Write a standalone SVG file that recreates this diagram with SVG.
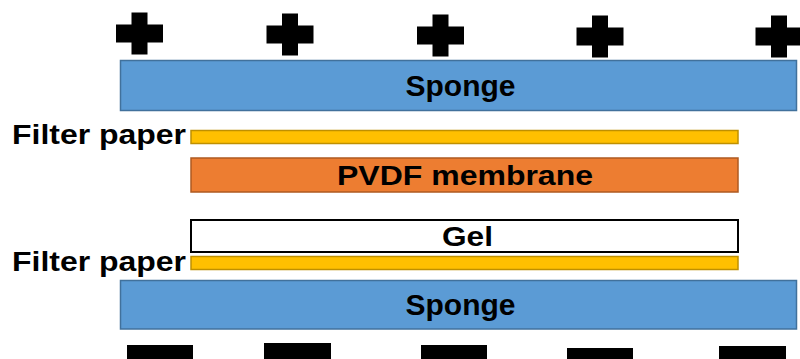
<svg xmlns="http://www.w3.org/2000/svg" width="800" height="359" viewBox="0 0 800 359">
<style>
.sponge{fill:#5B9BD5;stroke:#41719C;stroke-width:1.5}
.filter{fill:#FFC000;stroke:#BF9000;stroke-width:1.5}
.pvdf{fill:#ED7D31;stroke:#AE5A21;stroke-width:1.5}
.gel{fill:#FFFFFF;stroke:#000000;stroke-width:2}
.lbl{font-family:"Liberation Sans",Arial,sans-serif;font-weight:bold;fill:#000}
.sign{fill:#000}
</style>
<defs>
<path id="plus" d="M-8,-21 H8 V-9 H23.5 V9 H8 V21 H-8 V9 H-23.5 V-9 H-8 Z"/>
</defs>
<rect width="800" height="359" fill="#FFFFFF"/>
<g id="plus-signs" class="sign">
<use href="#plus" x="139.5" y="33.5"/>
<use href="#plus" x="290" y="34.5"/>
<use href="#plus" x="440.5" y="35.5"/>
<use href="#plus" x="600" y="36.5"/>
<use href="#plus" x="779" y="36.5"/>
</g>
<g id="sponge-top">
<rect class="sponge" x="120.5" y="60.5" width="676" height="50"/>
<text class="lbl" x="460.5" y="96" font-size="30" text-anchor="middle">Sponge</text>
</g>
<g id="filter-top">
<rect class="filter" x="191" y="130.5" width="547" height="13"/>
<text class="lbl" x="12" y="144" font-size="27" textLength="174" lengthAdjust="spacingAndGlyphs">Filter paper</text>
</g>
<g id="pvdf">
<rect class="pvdf" x="191" y="158" width="547" height="34"/>
<text class="lbl" x="337" y="185" font-size="28" textLength="256" lengthAdjust="spacingAndGlyphs">PVDF membrane</text>
</g>
<g id="gel">
<rect class="gel" x="191" y="220" width="547" height="32"/>
<text class="lbl" x="442" y="246" font-size="28" textLength="51" lengthAdjust="spacingAndGlyphs">Gel</text>
</g>
<g id="filter-bottom">
<rect class="filter" x="191" y="256.5" width="547" height="13"/>
<text class="lbl" x="12" y="271" font-size="27" textLength="174" lengthAdjust="spacingAndGlyphs">Filter paper</text>
</g>
<g id="sponge-bottom">
<rect class="sponge" x="120.5" y="280.5" width="676" height="48.5"/>
<text class="lbl" x="460.5" y="315" font-size="30" text-anchor="middle">Sponge</text>
</g>
<g id="minus-signs" class="sign">
<rect x="127" y="345" width="66" height="16"/>
<rect x="264" y="343" width="67" height="18"/>
<rect x="421" y="345" width="66" height="16"/>
<rect x="567" y="348" width="66" height="13"/>
<rect x="719" y="346" width="67" height="15"/>
</g>
<g id="connectors"/>
</svg>
